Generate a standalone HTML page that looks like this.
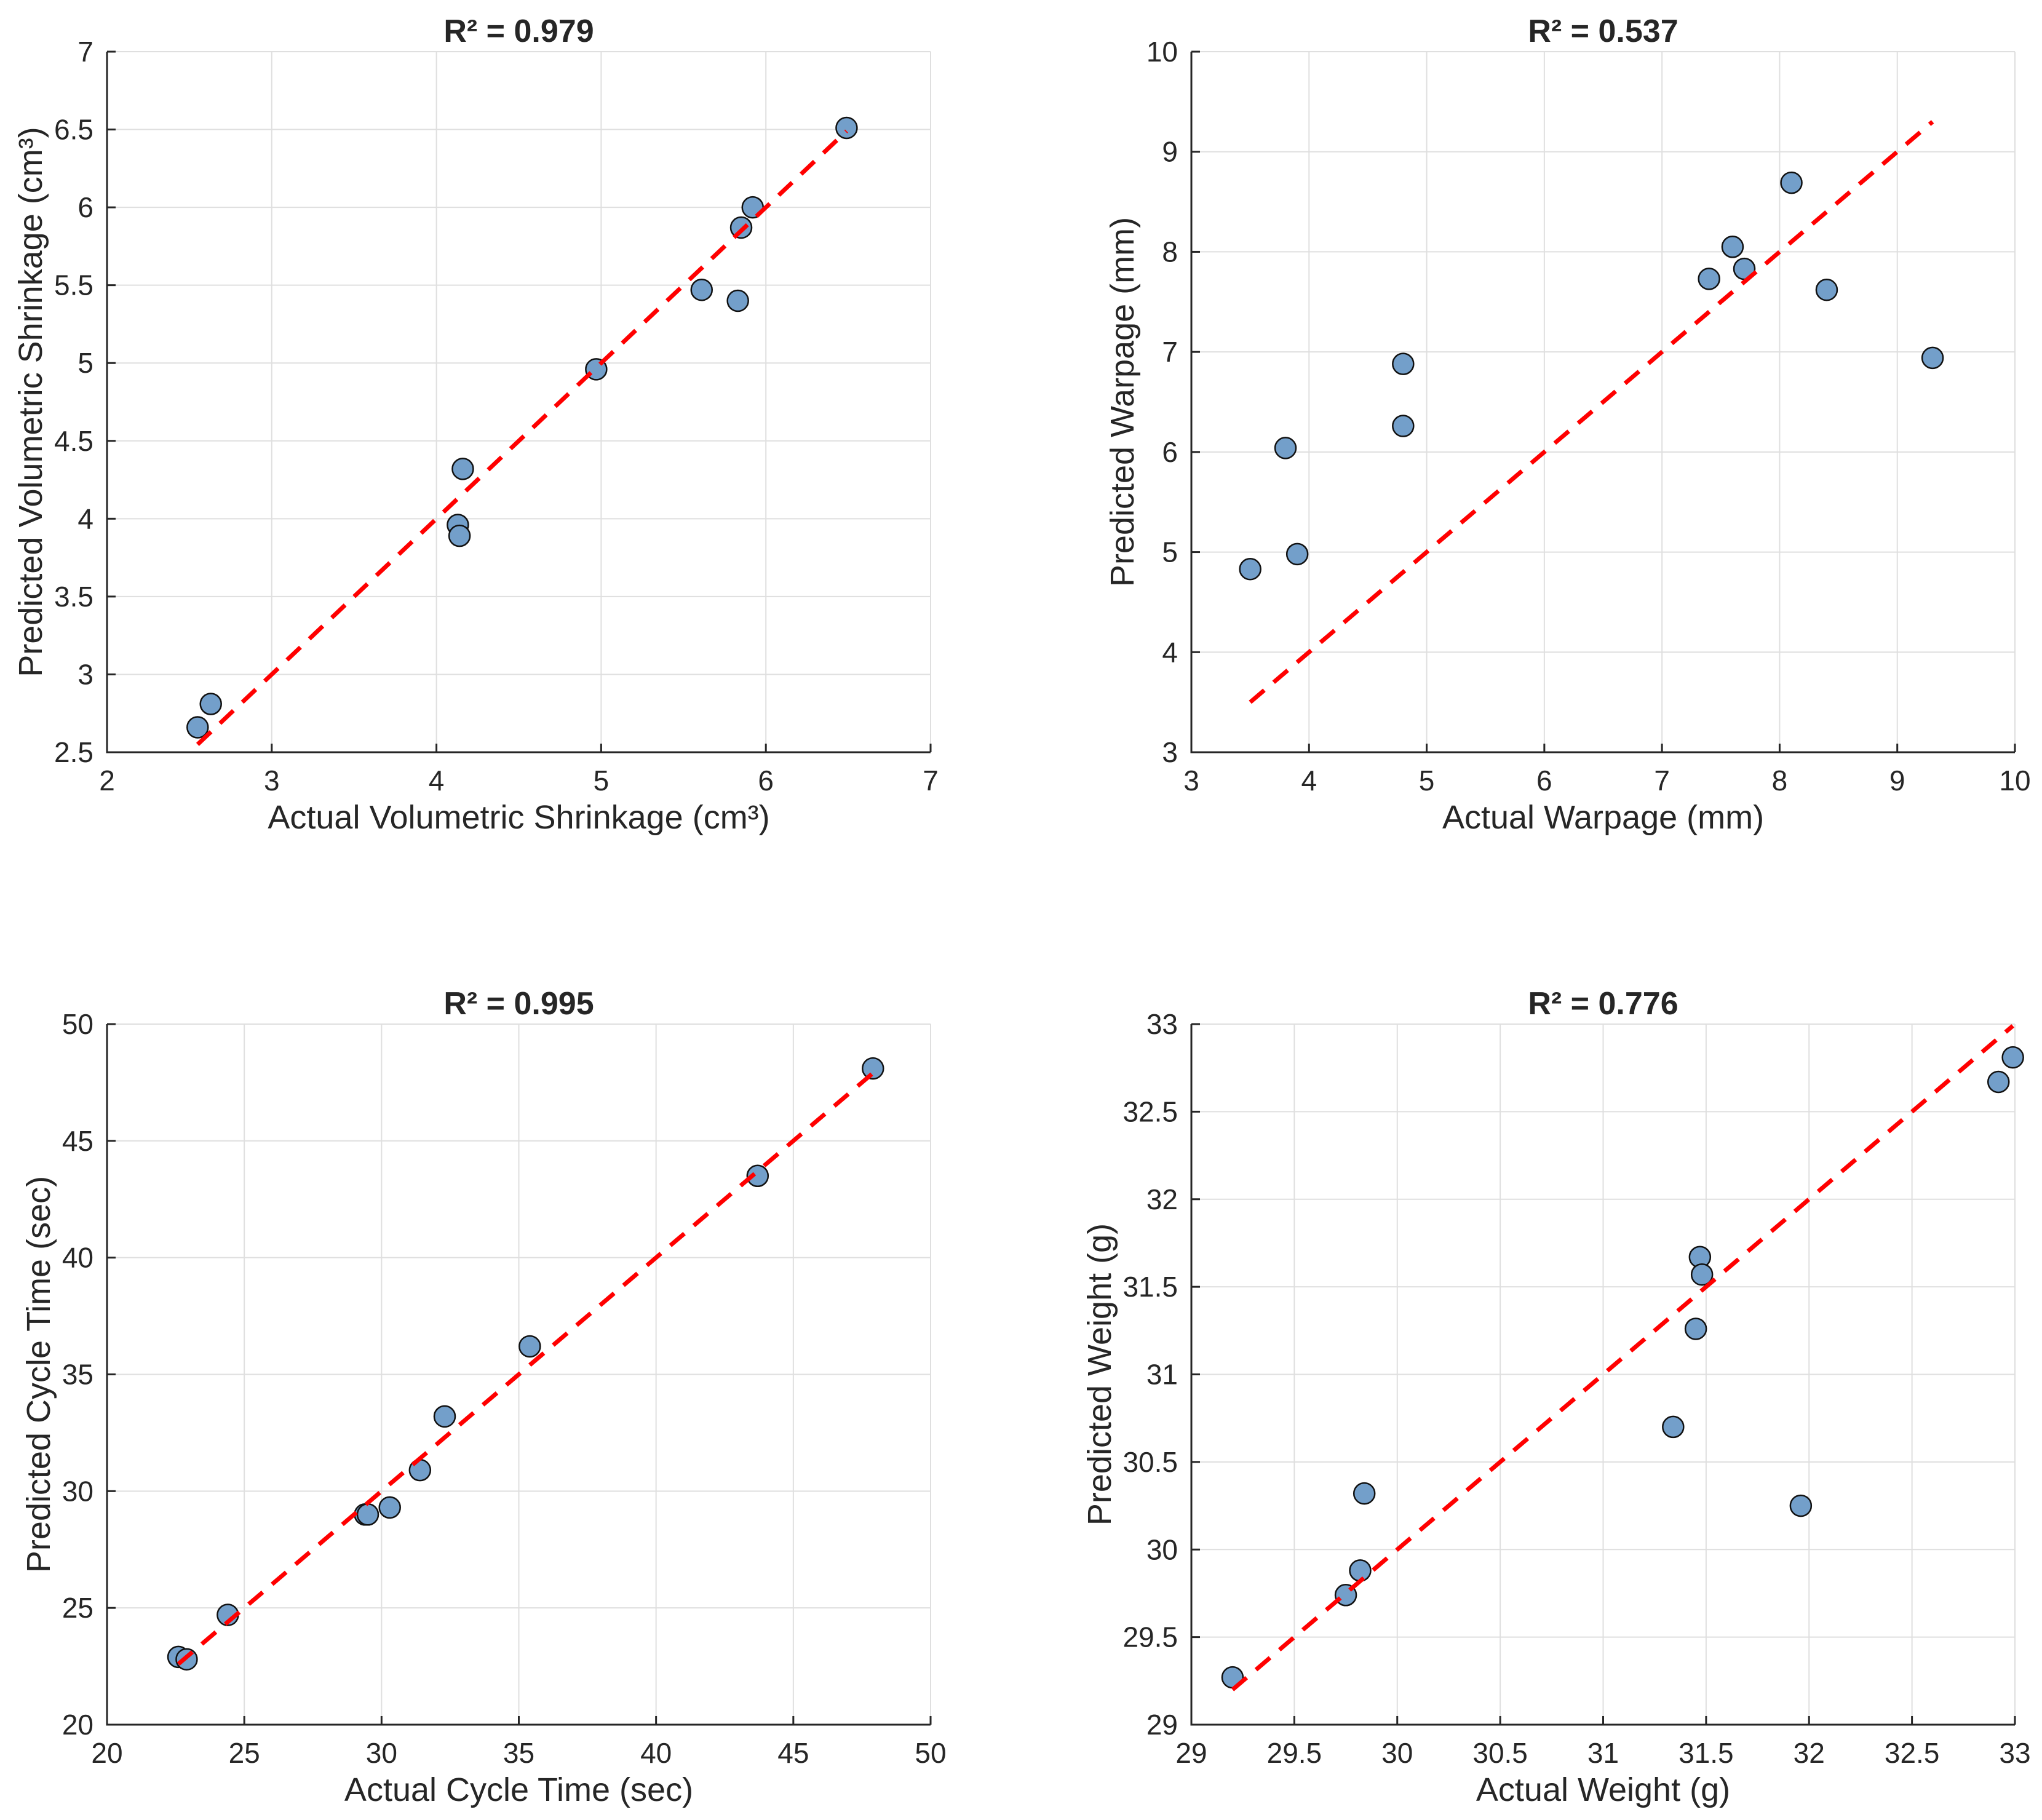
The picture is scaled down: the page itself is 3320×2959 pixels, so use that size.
<!DOCTYPE html>
<html><head><meta charset="utf-8"><style>
html,body{margin:0;padding:0;background:#fff}
svg{display:block}
text{font-family:"Liberation Sans",Arial,sans-serif;fill:#262626}
</style></head><body>
<svg id="fig" width="3320" height="2959" viewBox="0 0 3320 2959" xmlns="http://www.w3.org/2000/svg"></svg>
<script>
// Panel 1: volumetric shrinkage
const p1Actual = [2.55,2.63,4.13,4.14,4.16,4.97,5.61,5.83,5.85,5.92,6.49];
const p1Pred   = [2.66,2.81,3.96,3.89,4.32,4.96,5.47,5.40,5.87,6.00,6.51];
const p1XTicks = ["2","3","4","5","6","7"];
const p1YTicks = ["2.5","3","3.5","4","4.5","5","5.5","6","6.5","7"];
// Panel 2: warpage
const p2Actual = [3.5,3.8,3.9,4.8,4.8,7.4,7.6,7.7,8.1,8.4,9.3];
const p2Pred   = [4.83,6.04,4.98,6.88,6.26,7.73,8.05,7.83,8.69,7.62,6.94];
const p2XTicks = ["3","4","5","6","7","8","9","10"];
const p2YTicks = ["3","4","5","6","7","8","9","10"];
// Panel 3: cycle time
const p3Actual = [22.6,22.9,24.4,29.4,29.5,30.3,31.4,32.3,35.4,43.7,47.9];
const p3Pred   = [22.9,22.8,24.7,29.0,29.0,29.3,30.9,33.2,36.2,43.5,48.1];
const p3XTicks = ["20","25","30","35","40","45","50"];
const p3YTicks = ["20","25","30","35","40","45","50"];
// Panel 4: weight
const p4Actual = [29.2,29.75,29.82,29.84,31.34,31.45,31.47,31.48,31.96,32.92,32.99];
const p4Pred   = [29.27,29.74,29.88,30.32,30.70,31.26,31.67,31.57,30.25,32.67,32.81];
const p4XTicks = ["29","29.5","30","30.5","31","31.5","32","32.5","33"];
const p4YTicks = ["29","29.5","30","30.5","31","31.5","32","32.5","33"];

const NS="http://www.w3.org/2000/svg";
const svg=document.getElementById('fig');
function mk(tag,attrs,parent,txt){const e=document.createElementNS(NS,tag);for(const k in attrs)e.setAttribute(k,attrs[k]);if(txt!==undefined)e.textContent=txt;(parent||svg).appendChild(e);return e;}

const panels=[
 {id:'shrinkage',L:174,T:84,x:p1Actual,y:p1Pred,xt:p1XTicks,yt:p1YTicks,title:'R² = 0.979',xl:'Actual Volumetric Shrinkage (cm³)',yl:'Predicted Volumetric Shrinkage (cm³)',ylx:49},
 {id:'warpage',L:1937,T:84,x:p2Actual,y:p2Pred,xt:p2XTicks,yt:p2YTicks,title:'R² = 0.537',xl:'Actual Warpage (mm)',yl:'Predicted Warpage (mm)',ylx:1824},
 {id:'cycle-time',L:174,T:1665,x:p3Actual,y:p3Pred,xt:p3XTicks,yt:p3YTicks,title:'R² = 0.995',xl:'Actual Cycle Time (sec)',yl:'Predicted Cycle Time (sec)',ylx:62},
 {id:'weight',L:1937,T:1665,x:p4Actual,y:p4Pred,xt:p4XTicks,yt:p4YTicks,title:'R² = 0.776',xl:'Actual Weight (g)',yl:'Predicted Weight (g)',ylx:1787}
];
const W=1339,H=1139;
panels.forEach(p=>{
 const g=mk('g',{});
 
 
 const xmin=+p.xt[0],xmax=+p.xt[p.xt.length-1],ymin=+p.yt[0],ymax=+p.yt[p.yt.length-1];
 const sx=v=>p.L+(v-xmin)/(xmax-xmin)*W;
 const sy=v=>p.T+H-(v-ymin)/(ymax-ymin)*H;
 p.xt.forEach(t=>{const X=sx(+t);const l=mk('line',{x1:X,x2:X,y1:p.T,y2:p.T+H,stroke:'#dfdfdf','stroke-width':2},g);
  });
 p.yt.forEach(t=>{const Y=sy(+t);const l=mk('line',{x1:p.L,x2:p.L+W,y1:Y,y2:Y,stroke:'#dfdfdf','stroke-width':2},g);
  });
 const ax=mk('path',{d:`M${p.L},${p.T} V${p.T+H} H${p.L+W}`,fill:'none',stroke:'#262626','stroke-width':3},g);
 
 p.xt.forEach(t=>{const X=sx(+t);mk('line',{x1:X,x2:X,y1:p.T+H,y2:p.T+H-14,stroke:'#262626','stroke-width':3},g);
  const tx=mk('text',{x:X,y:p.T+H+62,'text-anchor':'middle','font-size':46},g,t);
  });
 p.yt.forEach(t=>{const Y=sy(+t);mk('line',{x1:p.L,x2:p.L+14,y1:Y,y2:Y,stroke:'#262626','stroke-width':3},g);
  const tx=mk('text',{x:p.L-22,y:Y+16,'text-anchor':'end','font-size':46},g,t);
  });
 p.x.forEach((v,i)=>{const c=mk('circle',{cx:sx(v),cy:sy(p.y[i]),r:17,fill:'#739fca',stroke:'#111','stroke-width':2.5},g);
  });
 const lo=Math.min(...p.x),hi=Math.max(...p.x);
 const ln=mk('line',{x1:sx(lo),y1:sy(lo),x2:sx(hi),y2:sy(hi),stroke:'#ff0000','stroke-width':7,'stroke-dasharray':'30 20'},g);
 
 const ti=mk('text',{x:p.L+W/2,y:p.T-16,'text-anchor':'middle','font-size':52,'font-weight':'bold'},g,p.title);
 
 const xl=mk('text',{x:p.L+W/2,y:p.T+H+124,'text-anchor':'middle','font-size':54},g,p.xl);
 
 const yl=mk('text',{x:0,y:0,'text-anchor':'middle','font-size':54,transform:`translate(${p.ylx+19},${p.T+H/2}) rotate(-90)`},g,p.yl);
 
});
</script>
</body></html>
